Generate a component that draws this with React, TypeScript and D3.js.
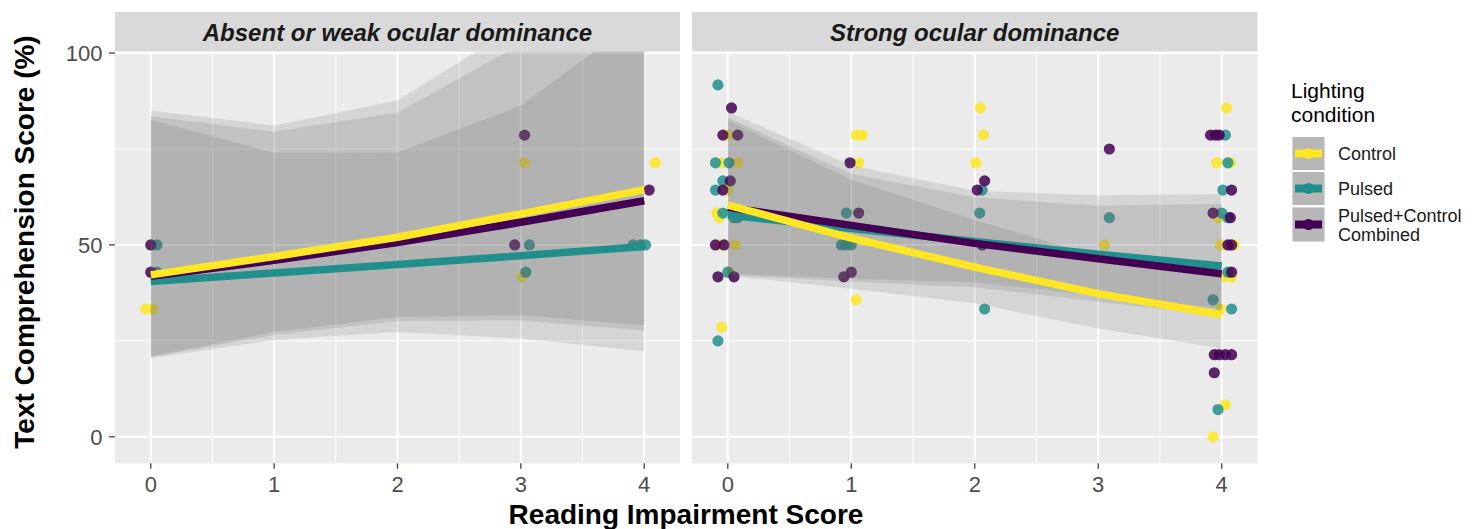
import React from "react";
import * as d3 from "d3";

type Condition = "Control" | "Pulsed" | "Combined";
type Pt = [number, number];

const conditions: Condition[] = ["Control", "Pulsed", "Combined"];
const legendLabels = [["Control"], ["Pulsed"], ["Pulsed+Control", "Combined"]];
const panelTitles = ["Absent or weak ocular dominance", "Strong ocular dominance"];

const xTicks = [0, 1, 2, 3, 4];
const xMinor = [0.5, 1.5, 2.5, 3.5];
const yTicks = [0, 50, 100];
const yMinor = [25, 75];
const fitX = [0, 1, 2, 3, 4];

// ---- absent / weak ocular dominance ----
const weakControlPts: Pt[] = [[-0.04, 33.3], [0.02, 33.3], [3.01, 41.7], [3.03, 71.4], [4.09, 71.4]];
const weakPulsedPts: Pt[] = [[0.05, 50], [0.05, 42.9], [3.07, 50], [3.04, 42.9], [3.91, 50], [3.97, 50], [4.01, 50]];
const weakCombinedPts: Pt[] = [[0.0, 50], [0.0, 42.9], [2.95, 50], [3.03, 78.6], [4.04, 64.3]];

const weakControlFit = [42.2, 47.0, 52.0, 58.1, 64.4];
const weakPulsedFit = [40.5, 42.7, 44.9, 47.2, 49.6];
const weakCombinedFit = [41.8, 46.0, 50.6, 55.9, 61.5];

const weakControlLo = [20.5, 25.2, 27.3, 25.6, 22.3];
const weakControlHi = [85.0, 81.1, 87.6, 107.6, 130];
const weakPulsedLo = [21.0, 27.3, 31.2, 31.7, 29.0];
const weakPulsedHi = [82.6, 74.0, 74.1, 86.3, 110];
const weakCombinedLo = [20.8, 26.5, 30.2, 30.3, 27.7];
const weakCombinedHi = [83.5, 79.5, 84.5, 102.3, 125];

// ---- strong ocular dominance ----
const strongControlPts: Pt[] = [
  [0.0, 78.6], [-0.05, 71.4], [0.08, 71.4], [0.0, 64.3], [-0.09, 58.3], [-0.07, 57.1], [-0.06, 50], [0.06, 50],
  [0.01, 42.9], [-0.05, 28.6],
  [1.04, 78.6], [1.09, 78.6], [1.06, 71.4], [1.04, 35.7],
  [2.045, 85.7], [2.07, 78.6], [2.01, 71.4],
  [3.05, 50],
  [4.04, 85.7], [3.96, 71.4], [4.07, 71.4], [3.97, 57.1], [3.99, 50], [4.1, 50], [4.03, 41.7], [4.08, 41.7],
  [3.99, 33.3], [4.03, 8.3], [3.93, 0],
];
const strongPulsedPts: Pt[] = [
  [-0.08, 91.7], [-0.1, 71.4], [0.01, 71.4], [-0.04, 66.7], [-0.1, 64.3], [-0.04, 58.3], [0.05, 57.1], [0.08, 57.1],
  [0.0, 42.9], [-0.08, 25],
  [0.96, 58.3], [0.92, 50], [0.96, 50], [1.0, 50],
  [2.06, 64.3], [2.04, 58.3], [2.08, 33.3],
  [3.09, 57.1],
  [4.03, 78.6], [4.05, 71.4], [4.01, 64.3], [4.0, 58.3], [4.05, 57.1], [4.05, 42.9], [3.93, 35.7], [4.08, 33.3],
  [3.97, 7.1],
];
const strongCombinedPts: Pt[] = [
  [0.03, 85.7], [-0.04, 78.6], [0.08, 78.6], [0.02, 66.7], [-0.04, 64.3], [-0.1, 50], [-0.03, 50], [-0.08, 41.7],
  [0.05, 41.7],
  [0.99, 71.4], [1.06, 58.3], [0.94, 41.7], [1.0, 42.9],
  [2.08, 66.7], [2.02, 64.3], [2.06, 50],
  [3.09, 75],
  [3.91, 78.6], [3.95, 78.6], [3.98, 78.6], [4.08, 64.3], [3.93, 58.3], [4.07, 57.1], [4.05, 50], [4.08, 50],
  [4.08, 42.9], [3.94, 21.4], [3.98, 21.4], [4.03, 21.4], [4.08, 21.4], [3.94, 16.7],
];

const strongControlFit = [60.4, 51.8, 44.2, 37.3, 31.8];
const strongPulsedFit = [57.8, 54.3, 50.9, 47.6, 44.5];
const strongCombinedFit = [59.8, 55.1, 50.4, 46.4, 42.5];

const strongControlLo = [42.0, 38.6, 34.8, 28.2, 23.0];
const strongControlHi = [82.5, 67.0, 56.5, 47.0, 42.0];
const strongPulsedLo = [42.5, 41.2, 40.2, 36.9, 33.4];
const strongPulsedHi = [84.7, 70.7, 64.1, 62.9, 63.3];
const strongCombinedLo = [42.2, 40.5, 39.0, 35.2, 31.6];
const strongCombinedHi = [83.2, 68.5, 62.4, 60.2, 60.7];

const colors: Record<Condition, string> = {
  Control: "#FDE725",
  Pulsed: "#21908C",
  Combined: "#440154",
};

const panels = [
  {
    title: panelTitles[0],
    points: { Control: weakControlPts, Pulsed: weakPulsedPts, Combined: weakCombinedPts },
    fit: { Control: weakControlFit, Pulsed: weakPulsedFit, Combined: weakCombinedFit },
    lo: { Control: weakControlLo, Pulsed: weakPulsedLo, Combined: weakCombinedLo },
    hi: { Control: weakControlHi, Pulsed: weakPulsedHi, Combined: weakCombinedHi },
  },
  {
    title: panelTitles[1],
    points: { Control: strongControlPts, Pulsed: strongPulsedPts, Combined: strongCombinedPts },
    fit: { Control: strongControlFit, Pulsed: strongPulsedFit, Combined: strongCombinedFit },
    lo: { Control: strongControlLo, Pulsed: strongPulsedLo, Combined: strongCombinedLo },
    hi: { Control: strongControlHi, Pulsed: strongPulsedHi, Combined: strongCombinedHi },
  },
];

const width = 1481;
const height = 529;
const font = "'Liberation Sans', Arial, Helvetica, sans-serif";
const panelRanges: [number, number][] = [[115, 680], [692, 1257.5]];
const stripTop = 12;
const panelTop = 51.5;
const panelBottom = 463.3;

const yScale = d3.scaleLinear().domain([-6.9, 100.4]).range([panelBottom, panelTop]);

const ribbonFill = "#666666";
const ribbonAlpha = 0.16;
const lineOrder: Condition[] = ["Pulsed", "Combined", "Control"];
const pointR = 5.6;
const fitWidth = 7.5;

const App: React.FC = () => {
  return (
    <svg width={width} height={height} style={{ position: "absolute", left: 0, top: 0, background: "white" }}>
      <defs>
        {panelRanges.map(([l, r], i) => (
          <clipPath id={`clip${i}`} key={i}>
            <rect x={l} y={panelTop} width={r - l} height={panelBottom - panelTop} />
          </clipPath>
        ))}
      </defs>

      {panels.map((p, pi) => {
        const [l, r] = panelRanges[pi];
        const xScale = d3.scaleLinear().domain([-0.29, 4.29]).range([l, r]);
        const area = (lo: number[], hi: number[]) =>
          d3
            .area<number>()
            .x((d) => xScale(d))
            .y0((_, i) => yScale(lo[i]))
            .y1((_, i) => yScale(hi[i]))(fitX) || "";
        const line = (vals: number[]) =>
          d3
            .line<number>()
            .x((d) => xScale(d))
            .y((_, i) => yScale(vals[i]))(fitX) || "";
        return (
          <g key={pi}>
            {/* strip */}
            <rect x={l} y={stripTop} width={r - l} height={panelTop - stripTop} fill="#D9D9D9" />
            <text
              x={(l + r) / 2}
              y={40.5}
              textAnchor="middle"
              fontFamily={font}
              fontWeight="bold"
              fontStyle="italic"
              fontSize={24}
              fill="#1A1A1A"
            >
              {p.title}
            </text>

            {/* panel */}
            <rect x={l} y={panelTop} width={r - l} height={panelBottom - panelTop} fill="#EBEBEB" />
            {yMinor.map((t) => (
              <line key={`ym${t}`} x1={l} x2={r} y1={yScale(t)} y2={yScale(t)} stroke="white" strokeWidth={1} />
            ))}
            {xMinor.map((t) => (
              <line key={`xm${t}`} x1={xScale(t)} x2={xScale(t)} y1={panelTop} y2={panelBottom} stroke="white" strokeWidth={1} />
            ))}
            {yTicks.map((t) => (
              <line key={`y${t}`} x1={l} x2={r} y1={yScale(t)} y2={yScale(t)} stroke="white" strokeWidth={2} />
            ))}
            {xTicks.map((t) => (
              <line key={`x${t}`} x1={xScale(t)} x2={xScale(t)} y1={panelTop} y2={panelBottom} stroke="white" strokeWidth={2} />
            ))}

            <g clipPath={`url(#clip${pi})`}>
              {conditions.map((c) =>
                p.points[c].map(([x, y], j) => (
                  <circle key={`${c}${j}`} cx={xScale(x)} cy={yScale(y)} r={pointR} fill={colors[c]} fillOpacity={0.85} />
                ))
              )}
              {conditions.map((c) => (
                <path key={`rib${c}`} d={area(p.lo[c], p.hi[c])} fill={ribbonFill} fillOpacity={ribbonAlpha} />
              ))}
              {lineOrder.map((c) => (
                <path key={`fit${c}`} d={line(p.fit[c])} fill="none" stroke={colors[c]} strokeWidth={fitWidth} />
              ))}
            </g>

            {/* x axis */}
            {xTicks.map((t) => (
              <g key={`xt${t}`}>
                <line x1={xScale(t)} x2={xScale(t)} y1={panelBottom} y2={panelBottom + 5.5} stroke="#333333" strokeWidth={1.2} />
                <text x={xScale(t)} y={491.5} textAnchor="middle" fontFamily={font} fontSize={22} fill="#4D4D4D">
                  {t}
                </text>
              </g>
            ))}
          </g>
        );
      })}

      {/* y axis */}
      {yTicks.map((t) => (
        <g key={`yt${t}`}>
          <line x1={109} x2={115} y1={yScale(t)} y2={yScale(t)} stroke="#333333" strokeWidth={1.2} />
          <text x={102.5} y={yScale(t)} dy="0.36em" textAnchor="end" fontFamily={font} fontSize={22} fill="#4D4D4D">
            {t}
          </text>
        </g>
      ))}

      {/* axis titles */}
      <text
        transform={`translate(33.5, 242) rotate(-90)`}
        textAnchor="middle"
        fontFamily={font}
        fontWeight="bold"
        fontSize={28}
        fill="black"
      >
        Text Comprehension Score (%)
      </text>
      <text x={686} y={524} textAnchor="middle" fontFamily={font} fontWeight="bold" fontSize={28} fill="black">
        Reading Impairment Score
      </text>

      {/* legend */}
      <g fontFamily={font}>
        <text x={1291} y={98.3} fontSize={21} fill="black">Lighting</text>
        <text x={1291} y={121.7} fontSize={21} fill="black">condition</text>
        {conditions.map((c, i) => {
          const top = [137, 172, 207.5][i];
          const h = [33, 33, 34][i];
          const cy = top + h / 2;
          return (
            <g key={`lg${c}`}>
              <rect x={1292.5} y={top} width={32} height={h} fill="#F2F2F2" />
              {conditions.map((_, k) => (
                <rect key={k} x={1292.5} y={top} width={32} height={h} fill={ribbonFill} fillOpacity={ribbonAlpha} />
              ))}
              <line x1={1295} x2={1322} y1={cy} y2={cy} stroke={colors[c]} strokeWidth={8} />
              <circle cx={1308.5} cy={cy} r={pointR} fill={colors[c]} />
              {legendLabels[i].map((s, k) => (
                <text
                  key={k}
                  x={1338}
                  y={legendLabels[i].length === 1 ? cy + 6.5 : top + 14.5 + k * 18.5}
                  fontSize={18}
                  fill="#1A1A1A"
                >
                  {s}
                </text>
              ))}
            </g>
          );
        })}
      </g>
    </svg>
  );
};

export default App;
